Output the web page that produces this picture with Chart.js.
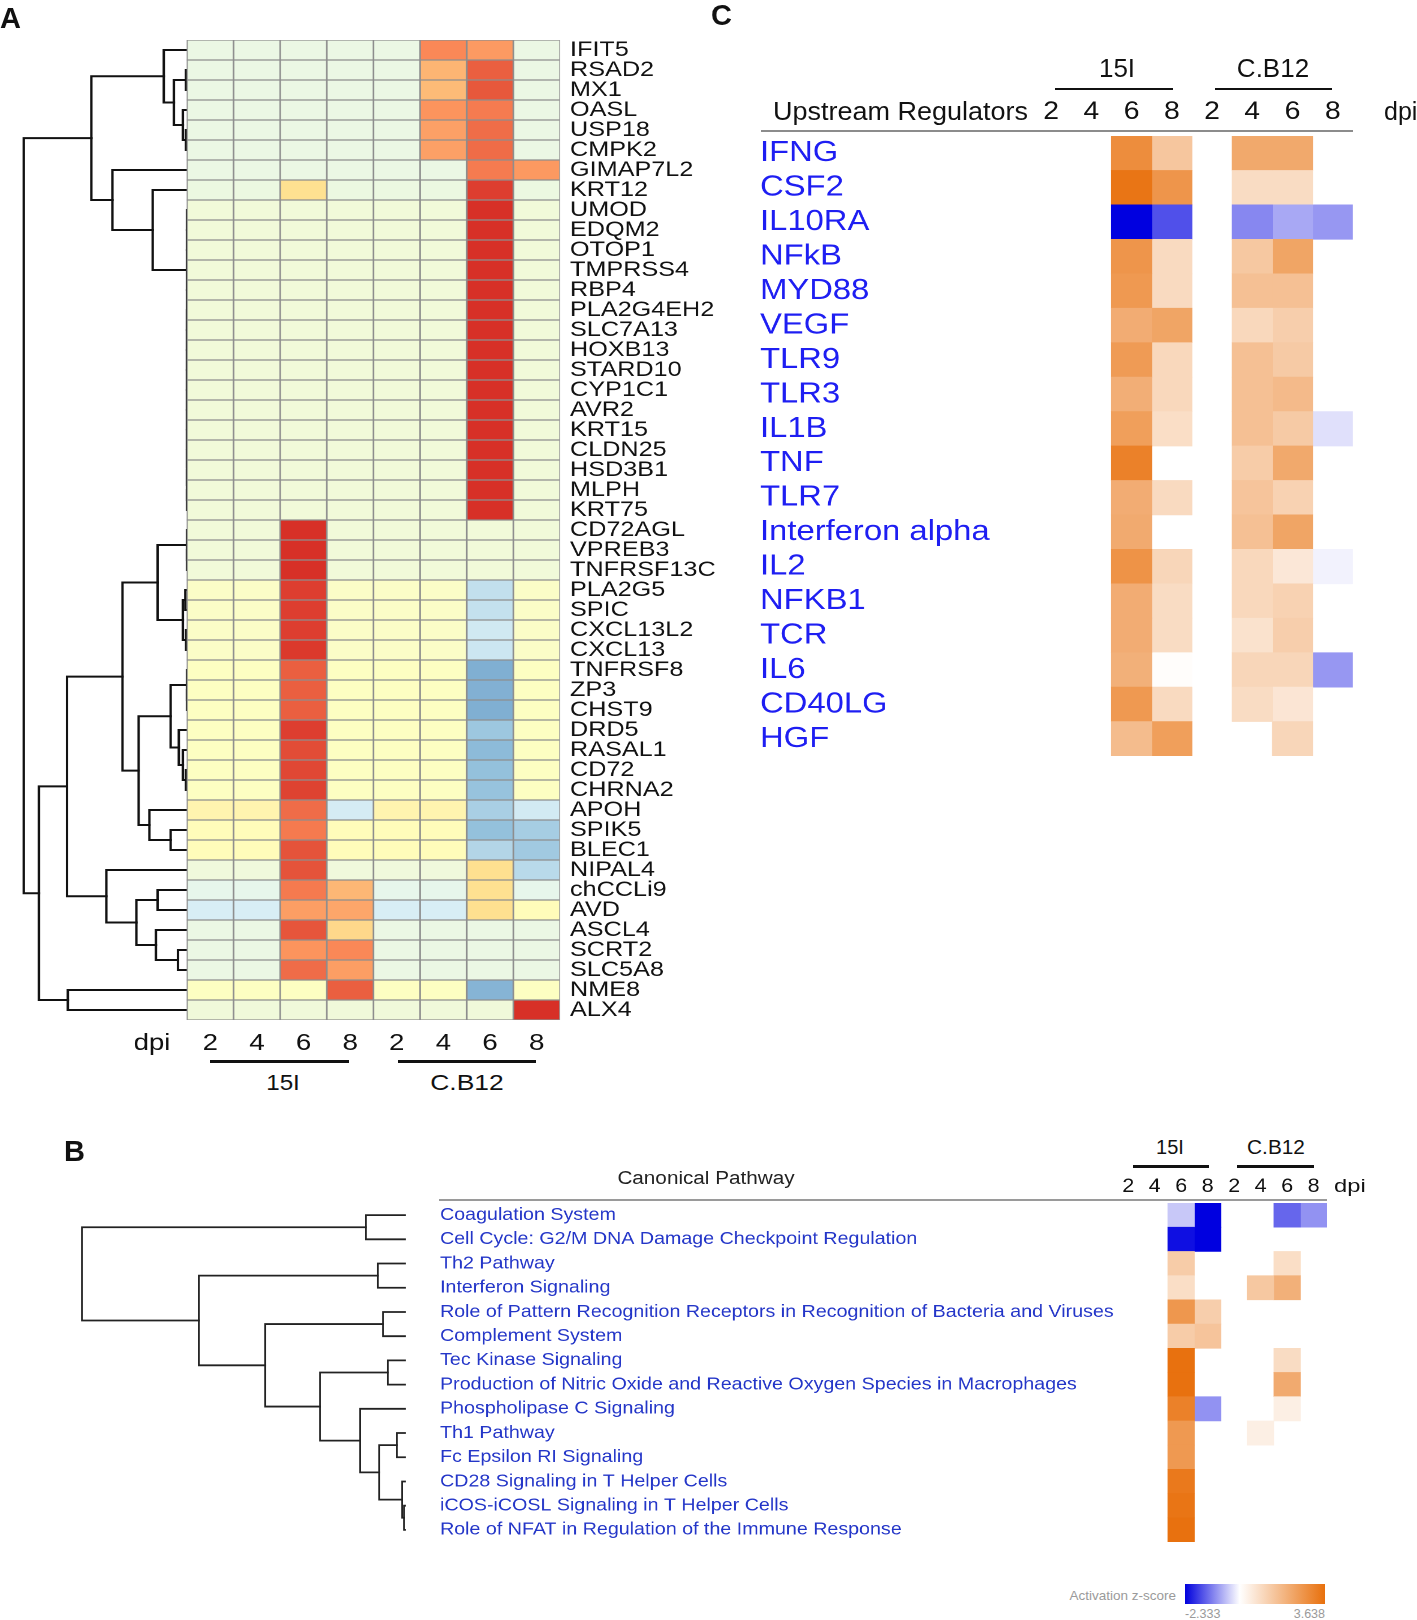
<!DOCTYPE html>
<html lang="en">
<head>
<meta charset="UTF-8">
<title>Gene, canonical pathway and upstream regulator heatmaps</title>
<script src="https://cdn.jsdelivr.net/npm/chart.js"></script>
<style>
  html, body { margin: 0; padding: 0; background: #fff; width: 1417px; height: 1620px; overflow: hidden; }
  body { position: relative; font-family: "Liberation Sans", Arial, sans-serif; color: #111; }
  .box { position: absolute; transform-origin: 0 0; }
  .txt { position: absolute; line-height: 1; white-space: nowrap; }
  .rule { position: absolute; }
</style>
</head>
<body>
<script>
// ---------- shared ----------
const dpi = ['2', '4', '6', '8', '2', '4', '6', '8'];
const strains = ['15I', 'C.B12'];
const zMin = -2.333, zMax = 3.638;

// ---------- A: differentially expressed genes (row-scaled values) ----------
const genes = ['IFIT5', 'RSAD2', 'MX1', 'OASL', 'USP18', 'CMPK2', 'GIMAP7L2', 'KRT12', 'UMOD', 'EDQM2',
  'OTOP1', 'TMPRSS4', 'RBP4', 'PLA2G4EH2', 'SLC7A13', 'HOXB13', 'STARD10', 'CYP1C1', 'AVR2', 'KRT15',
  'CLDN25', 'HSD3B1', 'MLPH', 'KRT75', 'CD72AGL', 'VPREB3', 'TNFRSF13C', 'PLA2G5', 'SPIC', 'CXCL13L2',
  'CXCL13', 'TNFRSF8', 'ZP3', 'CHST9', 'DRD5', 'RASAL1', 'CD72', 'CHRNA2', 'APOH', 'SPIK5',
  'BLEC1', 'NIPAL4', 'chCCLi9', 'AVD', 'ASCL4', 'SCRT2', 'SLC5A8', 'NME8', 'ALX4'];

const zGenes = [
  [-0.65, -0.65, -0.65, -0.65, -0.65, 2.05, 1.84, -0.65],
  [-0.65, -0.65, -0.65, -0.65, -0.65, 1.52, 2.49, -0.65],
  [-0.65, -0.65, -0.65, -0.65, -0.65, 1.45, 2.57, -0.65],
  [-0.65, -0.65, -0.65, -0.65, -0.65, 1.92, 2.19, -0.65],
  [-0.65, -0.65, -0.65, -0.65, -0.65, 1.77, 2.34, -0.65],
  [-0.65, -0.65, -0.65, -0.65, -0.65, 1.77, 2.36, -0.65],
  [-0.65, -0.65, -0.65, -0.65, -0.65, -0.65, 2.19, 1.85],
  [-0.6, -0.6, 0.98, -0.6, -0.6, -0.6, 2.85, -0.6],
  [-0.45, -0.45, -0.45, -0.45, -0.45, -0.45, 3.0, -0.45],
  [-0.45, -0.45, -0.45, -0.45, -0.45, -0.45, 3.0, -0.45],
  [-0.45, -0.45, -0.45, -0.45, -0.45, -0.45, 3.0, -0.45],
  [-0.45, -0.45, -0.45, -0.45, -0.45, -0.45, 3.0, -0.45],
  [-0.45, -0.45, -0.45, -0.45, -0.45, -0.45, 3.0, -0.45],
  [-0.45, -0.45, -0.45, -0.45, -0.45, -0.45, 3.0, -0.45],
  [-0.45, -0.45, -0.45, -0.45, -0.45, -0.45, 3.0, -0.45],
  [-0.45, -0.45, -0.45, -0.45, -0.45, -0.45, 3.0, -0.45],
  [-0.45, -0.45, -0.45, -0.45, -0.45, -0.45, 3.0, -0.45],
  [-0.45, -0.45, -0.45, -0.45, -0.45, -0.45, 3.0, -0.45],
  [-0.45, -0.45, -0.45, -0.45, -0.45, -0.45, 3.0, -0.45],
  [-0.45, -0.45, -0.45, -0.45, -0.45, -0.45, 3.0, -0.45],
  [-0.45, -0.45, -0.45, -0.45, -0.45, -0.45, 3.0, -0.45],
  [-0.45, -0.45, -0.45, -0.45, -0.45, -0.45, 3.0, -0.45],
  [-0.45, -0.45, -0.45, -0.45, -0.45, -0.45, 3.0, -0.45],
  [-0.45, -0.45, -0.45, -0.45, -0.45, -0.45, 3.0, -0.45],
  [-0.45, -0.45, 3.0, -0.45, -0.45, -0.45, -0.45, -0.45],
  [-0.45, -0.45, 3.0, -0.45, -0.45, -0.45, -0.45, -0.45],
  [-0.45, -0.45, 3.0, -0.45, -0.45, -0.45, -0.45, -0.45],
  [-0.14, -0.14, 2.85, -0.14, -0.14, -0.14, -1.38, -0.14],
  [-0.14, -0.14, 2.85, -0.14, -0.14, -0.14, -1.35, -0.14],
  [-0.14, -0.14, 2.85, -0.14, -0.14, -0.14, -1.2, -0.14],
  [-0.14, -0.14, 2.9, -0.14, -0.14, -0.14, -1.25, -0.14],
  [-0.05, -0.05, 2.5, -0.05, -0.05, -0.05, -2.22, -0.05],
  [-0.05, -0.05, 2.5, -0.05, -0.05, -0.05, -2.2, -0.05],
  [-0.05, -0.05, 2.5, -0.05, -0.05, -0.05, -2.22, -0.05],
  [-0.05, -0.05, 2.85, -0.05, -0.05, -0.05, -1.85, -0.05],
  [-0.05, -0.05, 2.7, -0.05, -0.05, -0.05, -2.05, -0.05],
  [-0.05, -0.05, 2.75, -0.05, -0.05, -0.05, -1.96, -0.05],
  [-0.05, -0.05, 2.8, -0.05, -0.05, -0.05, -1.92, -0.05],
  [0.35, 0.35, 2.35, -1.14, 0.35, 0.35, -1.7, -1.18],
  [0.1, 0.1, 2.2, 0.1, 0.1, 0.1, -1.96, -1.73],
  [0.1, 0.1, 2.62, 0.1, 0.1, 0.1, -1.57, -1.8],
  [-0.5, -0.5, 2.62, -0.5, -0.5, -0.5, 1.0, -1.49],
  [-0.77, -0.77, 2.2, 1.5, -0.77, -0.77, 0.98, -0.77],
  [-1.1, -1.1, 1.8, 1.7, -1.1, -1.1, 1.0, 0.1],
  [-0.65, -0.65, 2.6, 1.1, -0.65, -0.65, -0.65, -0.65],
  [-0.65, -0.65, 1.92, 2.05, -0.65, -0.65, -0.65, -0.65],
  [-0.65, -0.65, 2.35, 1.8, -0.65, -0.65, -0.65, -0.65],
  [-0.05, -0.05, -0.05, 2.5, -0.05, -0.05, -2.15, -0.05],
  [-0.48, -0.48, -0.48, -0.48, -0.48, -0.48, -0.48, 3.0]
];

// gene clustering: [height, child, child, ...], leaves are row indices
const treeGenes =
  [10,
    [5.86,
      [1.42, 0, [0.8, [0.06, 1, 2], [0.25, 3, [0.06, 4, 5]]]],
      [4.57, 6,
        [2.1, 7,
          [0, 8, 9, 10, 11, 12,
            [0, 13, [0, 14, [0, 15, [0, 16, [0, 17, [0, 18, [0, 19, [0, 20, [0, 21, [0, 22, 23]]]]]]]]]]
          ]
        ]
      ]
    ],
    [9.07,
      [7.35,
        [3.95,
          [1.8, [0, 24, [0, 25, 26]], [0.25, [0.1, 27, 28], [0.05, 29, 30]]],
          [2.96,
            [1.0, [0, 31, [0, 32, 33]], [0.5, 34, [0.25, 35, [0.06, 36, 37]]]],
            [2.3, 38, [1.0, 39, 40]]
          ]
        ],
        [4.94, 41, [3.1, [1.8, 42, 43], [1.9, 44, [0.55, 45, 46]]]]
      ],
      [7.3, 47, 48]
    ]
  ];

// ---------- C: upstream regulators (activation z-score, null = not significant) ----------
const regulators = ['IFNG', 'CSF2', 'IL10RA', 'NFkB', 'MYD88', 'VEGF', 'TLR9', 'TLR3', 'IL1B', 'TNF',
  'TLR7', 'Interferon alpha', 'IL2', 'NFKB1', 'TCR', 'IL6', 'CD40LG', 'HGF'];

const zRegulators = [
  [null, null, 2.9, 1.45, null, 2.2, 2.2, null],
  [null, null, 3.5, 2.7, null, 0.9, 0.9, null],
  [null, null, -2.333, -1.6, null, -1.1, -0.8, -0.95],
  [null, null, 2.7, 0.95, null, 1.4, 2.3, null],
  [null, null, 2.6, 0.95, null, 1.6, 1.6, null],
  [null, null, 2.1, 2.3, null, 1.0, 1.25, null],
  [null, null, 2.55, 1.0, null, 1.6, 1.35, null],
  [null, null, 2.05, 1.0, null, 1.6, 1.75, null],
  [null, null, 2.45, 0.85, null, 1.6, 1.35, -0.28],
  [null, null, 3.2, null, null, 1.3, 2.2, null],
  [null, null, 2.1, 0.95, null, 1.5, 1.15, null],
  [null, null, 2.15, null, null, 1.6, 2.3, null],
  [null, null, 2.75, 1.05, null, 1.0, 0.6, -0.12],
  [null, null, 2.1, 0.9, null, 1.0, 1.15, null],
  [null, null, 2.1, 0.9, null, 0.75, 1.25, null],
  [null, null, 2.0, 0.06, null, 1.05, 1.05, -0.95],
  [null, null, 2.6, 0.95, null, 0.9, 0.65, null],
  [null, null, 1.7, 2.45, null, null, 1.05, null]
];

// ---------- B: canonical pathways ----------
const pathways = ['Coagulation System', 'Cell Cycle: G2/M DNA Damage Checkpoint Regulation', 'Th2 Pathway',
  'Interferon Signaling', 'Role of Pattern Recognition Receptors in Recognition of Bacteria and Viruses',
  'Complement System', 'Tec Kinase Signaling', 'Production of Nitric Oxide and Reactive Oxygen Species in Macrophages',
  'Phospholipase C Signaling', 'Th1 Pathway', 'Fc Epsilon RI Signaling', 'CD28 Signaling in T Helper Cells',
  'iCOS-iCOSL Signaling in T Helper Cells', 'Role of NFAT in Regulation of the Immune Response'];

const zPathways = [
  [null, null, -0.5, -2.333, null, null, -1.4, -1.0],
  [null, null, -2.2, -2.333, null, null, null, null],
  [null, null, 1.3, null, null, null, 0.85, null],
  [null, null, 0.85, null, null, 1.4, 2.0, null],
  [null, null, 2.65, 1.25, null, null, null, null],
  [null, null, 1.3, 1.5, null, null, null, null],
  [null, null, 3.6, null, null, null, 0.9, null],
  [null, null, 3.6, null, null, null, 2.15, null],
  [null, null, 3.2, -1.0, null, null, 0.4, null],
  [null, null, 2.6, null, null, 0.4, null, null],
  [null, null, 2.6, null, null, null, null, null],
  [null, null, 3.4, null, null, null, null, null],
  [null, null, 3.5, null, null, null, null, null],
  [null, null, 3.6, null, null, null, null, null]
];

const treePathways =
  [10,
    [1.21, 0, 1],
    [6.38,
      [0.84, 2, 3],
      [4.33,
        [0.68, 4, 5],
        [2.63,
          [0.53, 6, 7],
          [1.39, 8, [0.8, [0.25, 9, 10], [0.09, 11, [0.03, 12, 13]]]]
        ]
      ]
    ]
  ];

// ---------- helpers ----------
Chart.defaults.font.family = '"Liberation Sans", Arial, sans-serif';
Chart.defaults.color = '#111';

function hexRgb(c) { c = c.replace('#', ''); return [0, 2, 4].map(i => parseInt(c.substr(i, 2), 16)); }
function mix(a, b, t) {
  const A = hexRgb(a), B = hexRgb(b);
  return 'rgb(' + A.map((v, i) => Math.round(v + (B[i] - v) * t)).join(',') + ')';
}

// pheatmap default ramp (reversed RdYlBu, 7 stops), -3..3
const geneStops = ['#4575B4', '#91BFDB', '#E0F3F8', '#FFFFBF', '#FEE090', '#FC8D59', '#D73027'];
function geneColor(v) {
  const t = Math.max(0, Math.min(5.999, v + 3));
  const i = Math.floor(t);
  return mix(geneStops[i], geneStops[i + 1], t - i);
}
function ipaColor(v) {
  if (v === null) return 'rgba(0,0,0,0)';
  return v >= 0 ? mix('#ffffff', '#e8700c', Math.min(1, v / zMax))
                : mix('#ffffff', '#0000e0', Math.min(1, v / zMin));
}

function place(id, left, top, width, height, sx) {
  const box = document.createElement('div');
  box.className = 'box';
  box.style.left = left + 'px';
  box.style.top = top + 'px';
  box.style.transform = 'scaleX(' + sx + ')';
  const cv = document.createElement('canvas');
  cv.id = id;
  cv.width = Math.round(width / sx);
  cv.height = height;
  box.appendChild(cv);
  document.body.appendChild(box);
  return cv;
}

function text(str, x, cy, size, opt = {}) {
  const d = document.createElement('div');
  d.className = 'txt';
  d.textContent = str;
  d.style.fontSize = size + 'px';
  d.style.left = x + 'px';
  d.style.top = (cy - 0.49 * size) + 'px';
  if (opt.bold) d.style.fontWeight = 'bold';
  if (opt.color) d.style.color = opt.color;
  const align = opt.align || 'left';
  const shift = align === 'center' ? -50 : align === 'right' ? -100 : 0;
  d.style.transformOrigin = align === 'center' ? '50% 0' : align === 'right' ? '100% 0' : '0 0';
  d.style.transform = 'translateX(' + shift + '%) scaleX(' + (opt.sx || 1) + ')';
  document.body.appendChild(d);
}

function rule(x1, x2, y, h, color) {
  const d = document.createElement('div');
  d.className = 'rule';
  d.style.left = x1 + 'px';
  d.style.top = y + 'px';
  d.style.width = (x2 - x1) + 'px';
  d.style.height = h + 'px';
  d.style.background = color || '#111';
  document.body.appendChild(d);
}

// one floating-bar dataset per dpi column
function heatDatasets(z, colorFn, border) {
  return dpi.map((d, j) => ({
    type: 'bar', indexAxis: 'y', xAxisID: 'x', yAxisID: 'y',
    data: z.map(() => [j, j + 1]),
    backgroundColor: z.map(row => colorFn(row[j])),
    borderColor: border ? '#8e8e8e' : 'rgba(0,0,0,0)',
    borderWidth: border ? 1 : 0,
    borderSkipped: false,
    barPercentage: 1, categoryPercentage: 1, grouped: false
  }));
}

// elbow paths of a dendrogram, x = merge height, y = leaf position
function dendroPaths(tree) {
  const out = [];
  function walk(n) {
    if (typeof n === 'number') return { y: n, h: 0 };
    const h = n[0];
    const kids = n.slice(1).map(walk);
    const first = kids[0], last = kids[kids.length - 1];
    out.push([{ x: first.h, y: first.y }, { x: h, y: first.y }, { x: h, y: last.y }, { x: last.h, y: last.y }]);
    kids.slice(1, -1).forEach(k => out.push([{ x: k.h, y: k.y }, { x: h, y: k.y }]));
    return { y: (first.y + last.y) / 2, h: h };
  }
  walk(tree);
  return out;
}

function dendroDatasets(tree, xFactor, color, width, yAxisID) {
  return dendroPaths(tree).map(pts => ({
    type: 'line', xAxisID: 'x', yAxisID: yAxisID,
    data: pts.map(p => ({ x: p.x * xFactor, y: p.y })),
    borderColor: color, borderWidth: width, pointRadius: 0, fill: false, tension: 0,
    clip: false, borderCapStyle: 'square'
  }));
}

const base = {
  responsive: false, animation: false, events: [], devicePixelRatio: 2,
  plugins: { legend: { display: false }, tooltip: { enabled: false } }
};
const noLines = { grid: { display: false, drawTicks: false }, border: { display: false } };

// ---------- A ----------
const sA = 1.2;
new Chart(place('geneChart', 10, 16, 720, 1046, sA), {
  type: 'bar',
  data: {
    labels: genes,
    datasets: [...heatDatasets(zGenes, geneColor, true), ...dendroDatasets(treeGenes, -0.35, '#111', 2, 'yd')]
  },
  options: {
    ...base,
    layout: { padding: { left: 10 / sA, top: 24, right: 0, bottom: 0 } },
    scales: {
      x: {
        type: 'linear', min: -3.58, max: 8, offset: false, ...noLines,
        afterBuildTicks: s => { s.ticks = [{ value: -0.75 }].concat(dpi.map((d, i) => ({ value: i + 0.5 }))); },
        ticks: { autoSkip: false, maxRotation: 0, minRotation: 0, padding: 10, font: { size: 23 }, color: '#111',
                 callback: (v, i) => (i === 0 ? 'dpi' : dpi[i - 1]) },
        afterFit: s => { s.height = 42; }
      },
      y: {
        type: 'category', position: 'right', offset: true, ...noLines,
        ticks: { autoSkip: false, padding: 10 / sA, font: { size: 21 }, color: '#111' },
        afterFit: s => { s.width = 170 / sA; }
      },
      yd: { type: 'linear', axis: 'y', display: false, reverse: true, min: -0.5, max: genes.length - 0.5 }
    }
  }
});

// ---------- C ----------
const sC = 1.13;
new Chart(place('regChart', 740, 80, 677, 700, sC), {
  type: 'bar',
  data: { labels: regulators, datasets: heatDatasets(zRegulators, ipaColor, false) },
  options: {
    ...base,
    layout: { padding: { left: 20 / sC, right: 64 / sC, top: 0, bottom: 24 } },
    scales: {
      x: {
        type: 'linear', position: 'top', min: 0, max: 8, offset: false, ...noLines,
        afterBuildTicks: s => { s.ticks = dpi.map((d, i) => ({ value: i + 0.5 })); },
        ticks: { autoSkip: false, maxRotation: 0, minRotation: 0, padding: 9, font: { size: 25 }, color: '#111',
                 callback: (v, i) => dpi[i] },
        afterFit: s => { s.height = 56; }
      },
      y: {
        type: 'category', offset: true, ...noLines,
        ticks: { autoSkip: false, crossAlign: 'far', padding: 0, font: { size: 29 }, color: '#1e1ef2' },
        afterFit: s => { s.width = (1031 - 760) / sC; }
      }
    }
  }
});

// ---------- B ----------
const sB = 1.13;
new Chart(place('pathChart', 420, 1160, 920, 396, sB), {
  type: 'bar',
  data: { labels: pathways, datasets: heatDatasets(zPathways, ipaColor, false) },
  options: {
    ...base,
    layout: { padding: { left: 20 / sB, right: 13 / sB, top: 0, bottom: 14 } },
    scales: {
      x: {
        type: 'linear', position: 'top', min: 0, max: 8, offset: false, ...noLines,
        afterBuildTicks: s => { s.ticks = dpi.map((d, i) => ({ value: i + 0.5 })); },
        ticks: { autoSkip: false, maxRotation: 0, minRotation: 0, padding: 5, font: { size: 19 }, color: '#111',
                 callback: (v, i) => dpi[i] },
        afterFit: s => { s.height = 43; }
      },
      y: {
        type: 'category', offset: true, ...noLines,
        ticks: { autoSkip: false, crossAlign: 'far', padding: 0, font: { size: 17.4 }, color: '#2436c8' },
        afterFit: s => { s.width = (1115 - 440) / sB; }
      }
    }
  }
});

new Chart(place('pathTree', 60, 1160, 360, 396, 1), {
  type: 'line',
  data: { datasets: dendroDatasets(treePathways, 1, '#222', 1.8, 'y') },
  options: {
    ...base,
    layout: { padding: { left: 22, right: 15, top: 43, bottom: 14 } },
    scales: {
      x: { type: 'linear', display: false, reverse: true, min: 0, max: 10 },
      y: { type: 'linear', display: false, reverse: true, min: -0.5, max: pathways.length - 0.5 }
    }
  }
});

// ---------- panel letters, group headers, rules, legend ----------
text('A', 0, 18.5, 29, { bold: true });
text('C', 711, 15.5, 29, { bold: true });
text('B', 64, 1151.5, 29, { bold: true });

text(strains[0], 283, 1083, 22, { align: 'center', sx: 1.1 });
text(strains[1], 467, 1083, 22, { align: 'center', sx: 1.2 });
rule(210, 349, 1060, 2.5);
rule(398, 536, 1060, 2.5);

text(strains[0], 1117, 68, 26, { align: 'center' });
text(strains[1], 1273, 68, 26, { align: 'center' });
rule(1055, 1173, 87.5, 2.5);
rule(1215, 1332, 87.5, 2.5);
text('Upstream Regulators', 773, 111, 25, { sx: 1.08 });
text('dpi', 1384, 111, 25);
rule(761, 1353, 130, 2, '#8c8c8c');

text('Canonical Pathway', 706, 1178, 18, { align: 'center', sx: 1.15, color: '#222' });
text(strains[0], 1170, 1147, 20, { align: 'center' });
text(strains[1], 1276, 1147, 20, { align: 'center', sx: 1.04 });
rule(1133, 1209, 1165, 2.5);
rule(1237, 1314, 1165, 2.5);
text('dpi', 1334, 1185, 19, { sx: 1.25 });
rule(439, 1327, 1199, 2, '#9a9a9a');

text('Activation z-score', 1176, 1596, 13.5, { align: 'right', color: '#9a9a9a' });
const whiteAt = (-zMin / (zMax - zMin) * 100).toFixed(1);
rule(1185, 1325, 1584, 20, 'linear-gradient(to right, #0000dd 0%, #ffffff ' + whiteAt + '%, #e8700c 100%)');
text(zMin.toFixed(3), 1185, 1614, 12.5, { color: '#9a9a9a' });
text(zMax.toFixed(3), 1325, 1614, 12.5, { align: 'right', color: '#9a9a9a' });
</script>
</body>
</html>
